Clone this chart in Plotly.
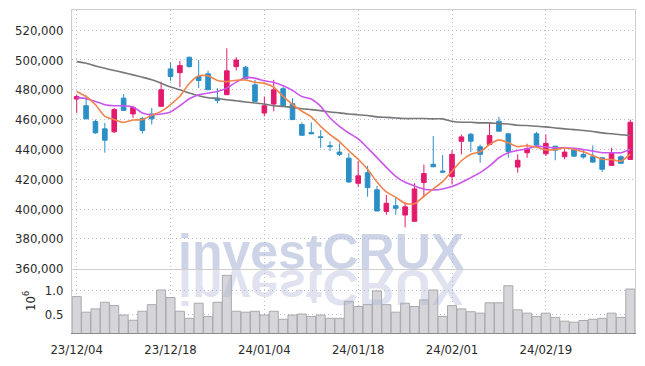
import plotly.graph_objects as go

dates = [
    "23/12/04", "23/12/05", "23/12/06", "23/12/07", "23/12/08", "23/12/11", "23/12/12", "23/12/13", "23/12/14", "23/12/15",
    "23/12/18", "23/12/19", "23/12/20", "23/12/21", "23/12/22", "23/12/26", "23/12/27", "23/12/28", "24/01/02", "24/01/03",
    "24/01/04", "24/01/05", "24/01/08", "24/01/09", "24/01/10", "24/01/11", "24/01/12", "24/01/15", "24/01/16", "24/01/17",
    "24/01/18", "24/01/19", "24/01/22", "24/01/23", "24/01/24", "24/01/25", "24/01/26", "24/01/29", "24/01/30", "24/01/31",
    "24/02/01", "24/02/02", "24/02/05", "24/02/06", "24/02/07", "24/02/08", "24/02/13", "24/02/14", "24/02/15", "24/02/16",
    "24/02/19", "24/02/20", "24/02/21", "24/02/22", "24/02/23", "24/02/26", "24/02/27", "24/02/28", "24/02/29", "24/03/04",
]
tick_labels = ["23/12/04", "23/12/18", "24/01/04", "24/01/18", "24/02/01", "24/02/19"]

opens = [473800, 469300, 458700, 453800, 451800, 474400, 463800, 460700, 463800, 468900,
         494000, 491500, 501800, 488900, 490700, 474400, 476700, 495500, 495100, 483300,
         464400, 470400, 480700, 470700, 456700, 451300, 448500, 442500, 438200, 434100,
         417300, 424400, 412900, 398400, 402200, 396000, 391800, 417800, 430000, 425500,
         421800, 445500, 450200, 441800, 443300, 458900, 450500, 428200, 437800, 450500,
         437100, 442200, 435100, 440500, 436700, 435100, 434400, 429300, 435100, 433300]
highs = [476700, 476200, 460000, 457800, 467800, 477100, 469300, 461800, 467800, 485500,
         498200, 499300, 502200, 500000, 492700, 481100, 507800, 501800, 496000, 486700,
         475500, 486700, 482000, 474400, 458200, 458200, 452900, 445500, 444000, 437500,
         432200, 429000, 415600, 409500, 407800, 404700, 417300, 429900, 449000, 436200,
         439500, 450000, 451100, 443300, 458200, 461800, 450500, 436700, 443800, 451800,
         450000, 442200, 440000, 441100, 440000, 442700, 435000, 441100, 436000, 460000]
lows = [464500, 460300, 450500, 437800, 451100, 466000, 461100, 450500, 456700, 468500,
        486000, 481800, 495000, 481100, 480000, 470900, 476500, 492900, 487300, 472200,
        462200, 465500, 469300, 460000, 449500, 450300, 441100, 438900, 435500, 417500,
        415000, 408300, 398700, 396200, 396200, 387800, 391800, 407800, 428000, 424500,
        416500, 436700, 438200, 431100, 443300, 452200, 434400, 424400, 434400, 442500,
        435500, 432700, 433300, 435000, 433800, 431000, 424900, 429300, 430500, 433000]
closes = [475500, 460500, 451100, 446200, 466700, 466200, 468200, 452700, 460500, 480000,
          488900, 496200, 495500, 486200, 480000, 472900, 492700, 500000, 487300, 472200,
          469300, 480000, 469300, 460000, 449500, 450500, 448000, 441900, 436700, 418200,
          422300, 414400, 398700, 403900, 400500, 401500, 413500, 423800, 428400, 424800,
          436700, 448400, 445500, 436700, 449300, 452200, 438500, 432700, 440500, 442900,
          444000, 439500, 438200, 435500, 434900, 431500, 426700, 437300, 430700, 458200]

ma_short = [478900, 475500, 470000, 462200, 460000, 458100, 459700, 460000, 462900, 465500,
            470100, 475700, 484200, 489400, 489400, 486200, 485500, 486400, 486600, 485000,
            484300, 481800, 475600, 470200, 465600, 461900, 455500, 450000, 445300, 439100,
            433400, 426700, 418100, 411500, 408000, 403800, 403600, 408600, 413500, 418400,
            425400, 432400, 436800, 438400, 443300, 446400, 444400, 441900, 442600, 441400,
            439700, 439900, 441000, 440000, 438400, 435900, 433400, 433200, 432200, 436900]
ma_mid = [474900, 474000, 472200, 470000, 469300, 469300, 468500, 464500, 463300, 463800,
          465100, 469300, 474000, 476700, 477800, 478900, 481100, 485100, 488200, 487800,
          486000, 484900, 482700, 479600, 475500, 473800, 468900, 461100, 455500, 451000,
          447000, 441000, 434500, 428000, 422000, 418000, 415500, 413300, 412900, 413500,
          415100, 417800, 421100, 424400, 428900, 434400, 437800, 439300, 440400, 442200,
          441600, 441100, 441100, 440700, 440000, 438900, 437800, 437800, 437800, 440000]
ma_long = [498900, 497800, 496000, 494400, 492900, 491500, 490000, 488400, 486700, 484400,
           481800, 480000, 477800, 476000, 474700, 474200, 473300, 472600, 471800, 471100,
           470400, 469300, 468900, 468200, 467300, 466700, 466000, 465100, 464500, 463800,
           463300, 462700, 461800, 461500, 461100, 460700, 460700, 460700, 460500, 460500,
           458900, 458200, 458200, 457800, 457800, 457300, 457100, 456200, 456000, 455500,
           455100, 454400, 453800, 453300, 452700, 452000, 451100, 450500, 449800, 449300]

volume_m = [0.88, 0.55, 0.62, 0.76, 0.69, 0.49, 0.38, 0.57, 0.71, 1.02,
            0.86, 0.57, 0.42, 0.74, 0.46, 0.76, 1.33, 0.57, 0.55, 0.57,
            0.49, 0.57, 0.40, 0.49, 0.51, 0.46, 0.49, 0.42, 0.42, 0.78,
            0.67, 0.71, 1.00, 0.71, 0.55, 0.74, 0.67, 0.81, 1.02, 0.46,
            0.69, 0.62, 0.56, 0.53, 0.75, 0.75, 1.11, 0.60, 0.53, 0.46,
            0.53, 0.44, 0.36, 0.34, 0.375, 0.40, 0.42, 0.53, 0.44, 1.04]

price_ticks = [360000, 380000, 400000, 420000, 440000, 460000, 480000, 500000, 520000]
volume_ticks = [0.5, 1.0]

RED = "#e31a6c"
BLUE = "#2b8fc7"
GRID = "#b9bdd2"
GRID_DASH = "1px,3px"
FONT = "DejaVu Sans Condensed, Liberation Sans Narrow, sans-serif"

fig = go.Figure()
fig.add_trace(go.Candlestick(
    x=dates, open=opens, high=highs, low=lows, close=closes,
    increasing=dict(line=dict(color=RED, width=1), fillcolor=RED),
    decreasing=dict(line=dict(color=BLUE, width=1), fillcolor=BLUE),
    whiskerwidth=0, xaxis="x", yaxis="y", showlegend=False, hoverinfo="skip",
))
for ma, col in [(ma_long, "#777777"), (ma_mid, "#cc55ee"), (ma_short, "#f0844c")]:
    fig.add_trace(go.Scatter(
        x=dates, y=ma, mode="lines", xaxis="x", yaxis="y", showlegend=False,
        line=dict(color=col, width=1.6, shape="spline", smoothing=0.6), hoverinfo="skip",
    ))
fig.add_trace(go.Bar(
    x=dates, y=volume_m, xaxis="x2", yaxis="y2", showlegend=False, hoverinfo="skip",
    marker=dict(color="#d6d6da", line=dict(color="#a9a9ad", width=1)),
))

VOL_TOP = 0.199
fig.update_layout(
    width=645, height=366,
    margin=dict(l=72, r=9, t=9, b=29),
    paper_bgcolor="white", plot_bgcolor="white",
    bargap=0.04,
    font=dict(family=FONT, size=13, color="#2a2a2a"),
    xaxis=dict(
        domain=[0, 1], anchor="y", type="category", range=[-0.5, 59.5],
        tickvals=tick_labels, showticklabels=False, rangeslider=dict(visible=False),
        showgrid=True, gridcolor=GRID, griddash=GRID_DASH, gridwidth=1,
        showline=True, mirror=True, linecolor="#cfcfcf", linewidth=1, zeroline=False,
    ),
    yaxis=dict(
        domain=[VOL_TOP, 1], anchor="x", range=[360000, 533500],
        tickvals=price_ticks, tickformat=",", showgrid=True, gridcolor=GRID, griddash=GRID_DASH,
        showline=True, mirror=True, linecolor="#cfcfcf", linewidth=1, zeroline=False,
        ticks="outside", ticklen=5, tickcolor="rgba(0,0,0,0)",
    ),
    xaxis2=dict(
        domain=[0, 1], anchor="y2", type="category", range=[-0.5, 59.5], matches="x",
        tickvals=tick_labels, ticktext=tick_labels,
        showgrid=True, gridcolor=GRID, griddash=GRID_DASH, gridwidth=1,
        showline=True, linecolor="#8a8a8a", linewidth=1, zeroline=False,
        ticks="outside", ticklen=4, tickcolor="rgba(0,0,0,0)",
    ),
    yaxis2=dict(
        domain=[0, VOL_TOP], anchor="x2", range=[0.11, 1.47],
        tickvals=volume_ticks, tickformat=".1f", showgrid=True, gridcolor=GRID, griddash=GRID_DASH,
        showline=True, mirror=True, linecolor="#cfcfcf", linewidth=1, zeroline=False,
        ticks="outside", ticklen=5, tickcolor="rgba(0,0,0,0)",
        title=dict(text="10<sup>6</sup>", standoff=6, font=dict(size=13)),
    ),
)

wm_y = (337 - 285) / 328
fig.add_annotation(
    text="investCRUX", xref="paper", yref="paper", x=0.443, y=wm_y,
    xanchor="center", yanchor="bottom", showarrow=False,
    font=dict(family="Liberation Sans, Arial, sans-serif", size=50, color="rgba(165,176,212,0.55)", weight="bold"),
)
fig.add_annotation(
    text="investCRUX", xref="paper", yref="paper", x=0.443, y=wm_y,
    xanchor="center", yanchor="bottom", showarrow=False,
    font=dict(family="Liberation Sans, Arial, sans-serif", size=50, color="rgba(165,175,210,0.35)", weight="bold"),
)

post = """
document.body.style.margin='0';
var gd = document.getElementById('{plot_id}');
var anns = gd.querySelectorAll('g.annotation');
if (anns.length > 1) {
  var t = anns[1].querySelector('text.annotation-text');
  if (t) {
    var bb = t.getBBox();
    var y = bb.y + bb.height * 0.81;
    t.setAttribute('transform', 'translate(0,' + (2*y) + ') scale(1,-1)');
  }
}
"""
fig.write_html("out.html", post_script=post, config={"displayModeBar": False})
